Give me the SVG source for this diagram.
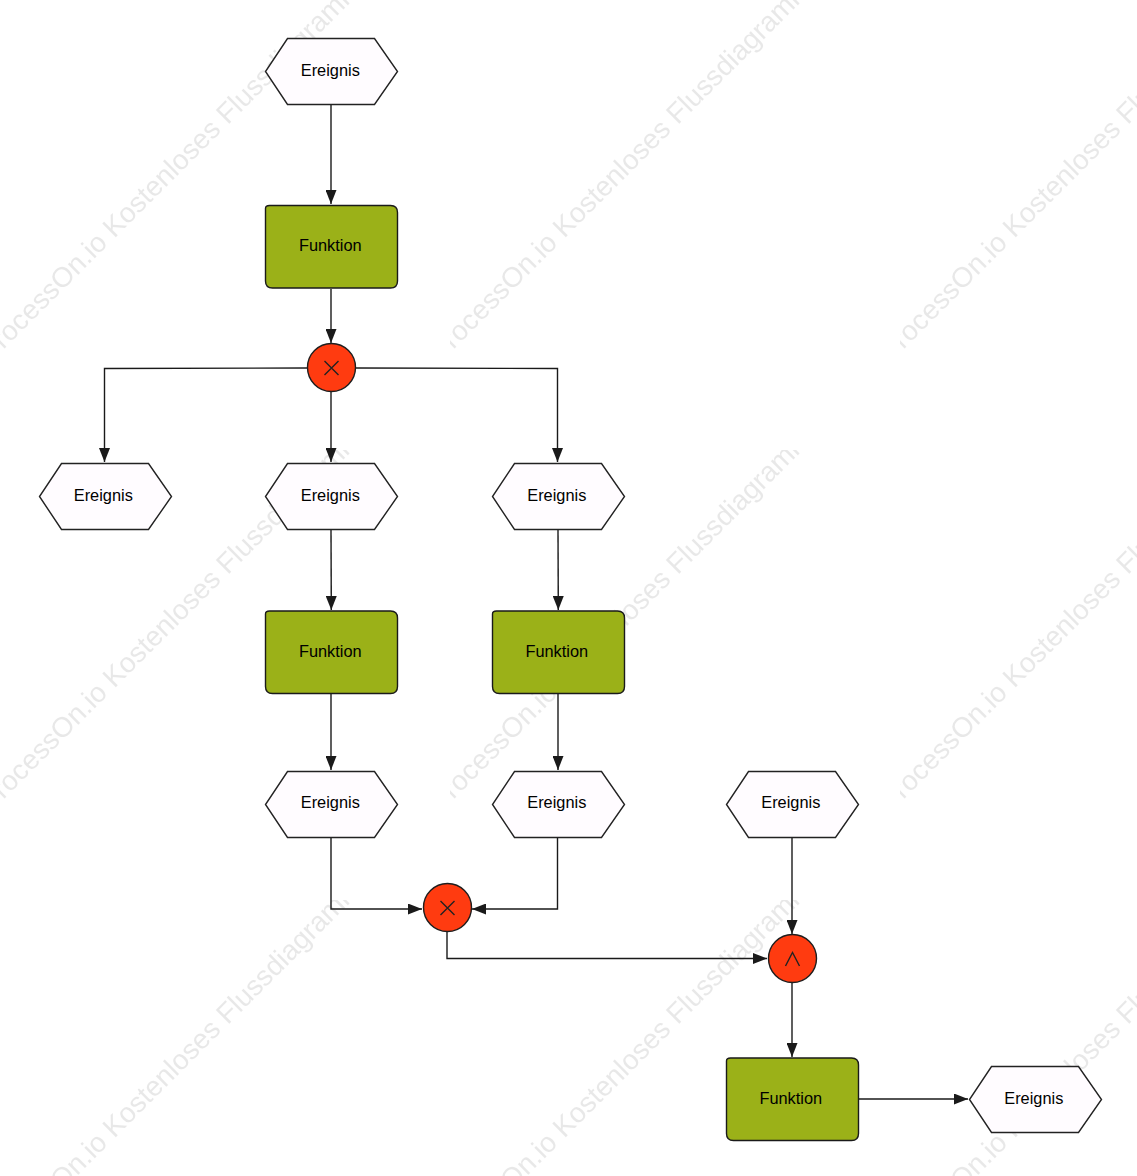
<svg xmlns="http://www.w3.org/2000/svg" width="1137" height="1176" viewBox="0 0 1137 1176">
<style>
.w{font:28px "Liberation Sans",Arial,sans-serif;fill:#000;fill-opacity:.09}
.hex{fill:#fffcff;stroke:#222;stroke-width:1.4}
.fn{fill:#9bb118;stroke:#1a1a1a;stroke-width:1.4}
.gw{fill:#ff3b10;stroke:#1e1e1e;stroke-width:1.4}
.sym{fill:none;stroke:#222;stroke-width:1.4}
.t{font:16.35px "Liberation Sans",Arial,sans-serif;fill:#000;text-anchor:middle}
.c{fill:none;stroke:#1a1a1a;stroke-width:1.4}
</style>
<defs>
<marker id="a" markerUnits="userSpaceOnUse" markerWidth="14" markerHeight="11" refX="14" refY="5.500" orient="auto"><path d="M0 0L14 5.500L0 11z" fill="#1a1a1a"/></marker>
<pattern id="wm" patternUnits="userSpaceOnUse" width="450" height="450"><text class="w" transform="translate(-10 363) rotate(-45)">ProcessOn.io Kostenloses Flussdiagramm</text></pattern>
<path id="h" class="hex" d="M22 0H109L132 33L109 66H22L0 33Z"/>
<path id="r" class="fn" d="M4 0H125Q132 0 132 7V75.500Q132 82.500 125 82.500H7Q0 82.500 0 75.500V3Q0 0 4 0Z"/>
</defs>
<rect id="watermark" width="1137" height="1176" fill="url(#wm)"/>
<g id="connectors">
<path class="c" marker-end="url(#a)" d="M331 105V204"/>
<path class="c" marker-end="url(#a)" d="M331 289V343"/>
<path class="c" marker-end="url(#a)" d="M307 368L104.500 368.500V462"/>
<path class="c" marker-end="url(#a)" d="M331 392V462"/>
<path class="c" marker-end="url(#a)" d="M356 368L557.500 368.500V462"/>
<path class="c" marker-end="url(#a)" d="M331 530L331.300 610"/>
<path class="c" marker-end="url(#a)" d="M558 530L558.300 610"/>
<path class="c" marker-end="url(#a)" d="M331 694V770"/>
<path class="c" marker-end="url(#a)" d="M558 694V770"/>
<path class="c" marker-end="url(#a)" d="M331 838V909H422"/>
<path class="c" marker-end="url(#a)" d="M557.500 838V909H472"/>
<path class="c" marker-end="url(#a)" d="M447 932V958.500H767"/>
<path class="c" marker-end="url(#a)" d="M792 838V934"/>
<path class="c" marker-end="url(#a)" d="M792 983V1057"/>
<path class="c" marker-end="url(#a)" d="M859 1099H968"/>
</g>
<g id="e1"><use href="#h" x="265.500" y="38.500"/><text class="t" x="330.300" y="76">Ereignis</text></g>
<g id="f1"><use href="#r" x="265.500" y="205.500"/><text class="t" x="330.300" y="251">Funktion</text></g>
<g id="x1"><circle class="gw" cx="331.500" cy="367.500" r="24"/><path class="sym" d="M324.500 361L338.500 375M338.500 361L324.500 375"/></g>
<g id="e2"><use href="#h" x="39.500" y="463.500"/><text class="t" x="103.300" y="501">Ereignis</text></g>
<g id="e3"><use href="#h" x="265.500" y="463.500"/><text class="t" x="330.300" y="501">Ereignis</text></g>
<g id="e4"><use href="#h" x="492.500" y="463.500"/><text class="t" x="556.800" y="501">Ereignis</text></g>
<g id="f2"><use href="#r" x="265.500" y="611"/><text class="t" x="330.300" y="657">Funktion</text></g>
<g id="f3"><use href="#r" x="492.500" y="611"/><text class="t" x="556.800" y="657">Funktion</text></g>
<g id="e5"><use href="#h" x="265.500" y="771.500"/><text class="t" x="330.300" y="808">Ereignis</text></g>
<g id="e6"><use href="#h" x="492.500" y="771.500"/><text class="t" x="556.800" y="808">Ereignis</text></g>
<g id="e7"><use href="#h" x="726.500" y="771.500"/><text class="t" x="790.800" y="808">Ereignis</text></g>
<g id="x2"><circle class="gw" cx="447.500" cy="907.500" r="24"/><path class="sym" d="M440.500 901L454.500 915M454.500 901L440.500 915"/></g>
<g id="a1"><circle class="gw" cx="792.500" cy="958.500" r="24"/><path class="sym" d="M785.500 966L792.500 952.500L799.500 966"/></g>
<g id="f4"><use href="#r" x="726.500" y="1058"/><text class="t" x="790.800" y="1104">Funktion</text></g>
<g id="e8"><use href="#h" x="969.500" y="1066.500"/><text class="t" x="1033.800" y="1104">Ereignis</text></g>
</svg>
